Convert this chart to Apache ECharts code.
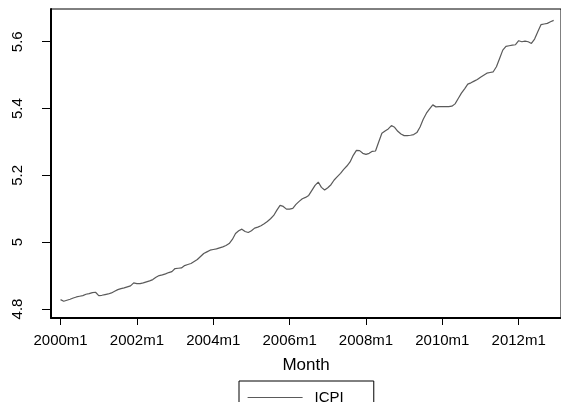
<!DOCTYPE html>
<html>
<head>
<meta charset="utf-8">
<script src="https://cdn.jsdelivr.net/npm/echarts@6/dist/echarts.min.js"></script>
<style>
  html, body { margin: 0; padding: 0; background: #fff; }
  #chart { width: 561px; height: 402px; }
</style>
</head>
<body>
<div id="chart"></div>
<script>
// ICPI, monthly 2000m1 .. 2012m12
const icpi = [
  4.828, 4.823, 4.826, 4.829, 4.833, 4.836, 4.838, 4.840, 4.844, 4.846, 4.849, 4.850,
  4.840, 4.841, 4.843, 4.845, 4.848, 4.853, 4.858, 4.861, 4.863, 4.866, 4.869, 4.878,
  4.876, 4.876, 4.878, 4.881, 4.884, 4.888, 4.895, 4.900, 4.902, 4.905, 4.909, 4.912,
  4.921, 4.922, 4.923, 4.930, 4.933, 4.936, 4.942, 4.948, 4.957, 4.966, 4.971, 4.976,
  4.978, 4.980, 4.983, 4.986, 4.990, 4.996, 5.008, 5.026, 5.034, 5.039, 5.032, 5.029,
  5.034, 5.042, 5.045, 5.049, 5.055, 5.062, 5.070, 5.080, 5.096, 5.110, 5.107, 5.099,
  5.099, 5.101, 5.113, 5.122, 5.130, 5.134, 5.140, 5.155, 5.170, 5.180, 5.164, 5.156,
  5.163, 5.172, 5.186, 5.196, 5.206, 5.218, 5.228, 5.240, 5.260, 5.275, 5.274, 5.266,
  5.263, 5.266, 5.272, 5.273, 5.300, 5.326, 5.333, 5.339, 5.349, 5.344, 5.332, 5.324,
  5.319, 5.319, 5.320, 5.322, 5.328, 5.345, 5.368, 5.386, 5.399, 5.411, 5.405, 5.406,
  5.406, 5.406, 5.406, 5.407, 5.414, 5.430, 5.446, 5.459, 5.473, 5.477, 5.482, 5.487,
  5.494, 5.500, 5.506, 5.508, 5.510, 5.525, 5.550, 5.575, 5.586, 5.588, 5.590, 5.591,
  5.603, 5.600, 5.602, 5.600, 5.595, 5.608, 5.630, 5.651, 5.653, 5.655, 5.660, 5.664
]
const startYear = 2000
const xTicks = [0, 24, 48, 72, 96, 120, 144]          // months since 2000m1
const xTickLabels = ['2000m1', '2002m1', '2004m1', '2006m1', '2008m1', '2010m1', '2012m1']
const yTicks = [4.8, 5, 5.2, 5.4, 5.6]
const yTickLabels = ['4.8', '5', '5.2', '5.4', '5.6']

// month labels like 2000m1 for each point
const months = icpi.map((v, i) => (startYear + Math.floor(i / 12)) + 'm' + (i % 12 + 1))

const chart = echarts.init(document.getElementById('chart'))
const font = 'Liberation Sans, Arial, Helvetica, sans-serif'

chart.setOption({
  animation: false,
  textStyle: { fontFamily: font },
  grid: {
    left: 51, right: 0, top: 9, bottom: 84,
    show: true, borderColor: '#000', borderWidth: 1
  },
  legend: {
    data: ['ICPI'],
    left: 239, top: 381,
    orient: 'horizontal',
    borderColor: '#000', borderWidth: 1, borderRadius: 0,
    padding: [9, 30, 10, 8],
    itemWidth: 55, itemHeight: 14,
    itemStyle: { opacity: 0 },
    lineStyle: { color: '#5a5a5a', width: 1.2 },
    textStyle: { fontFamily: font, fontSize: 15, color: '#000', padding: [0, 0, 0, 7] }
  },
  xAxis: {
    type: 'value',
    min: -3, max: 157.3,
    name: 'Month',
    nameLocation: 'middle',
    nameGap: 39,
    nameTextStyle: { fontFamily: font, fontSize: 17, color: '#000' },
    splitLine: { show: false },
    axisLine: { show: true, onZero: false, lineStyle: { color: '#000', width: 2 } },
    axisTick: { show: true, length: 7, customValues: xTicks, lineStyle: { color: '#000', width: 1 } },
    axisLabel: {
      customValues: xTicks,
      margin: 15,
      fontSize: 15, color: '#000', fontFamily: font,
      formatter: v => xTickLabels[xTicks.indexOf(Math.round(v))] || ''
    }
  },
  yAxis: {
    type: 'value',
    min: 4.773, max: 5.698,
    splitLine: { show: false },
    axisLine: { show: true, onZero: false, lineStyle: { color: '#000', width: 2 } },
    axisTick: { show: true, length: 9, customValues: yTicks, lineStyle: { color: '#000', width: 1 } },
    axisLabel: {
      customValues: yTicks,
      rotate: 90,
      margin: 26,
      fontSize: 15, color: '#000', fontFamily: font,
      formatter: v => yTickLabels[yTicks.findIndex(t => Math.abs(t - v) < 1e-6)] || ''
    }
  },
  tooltip: {
    trigger: 'axis',
    formatter: p => months[p[0].dataIndex] + ': ' + p[0].value[1]
  },
  series: [{
    name: 'ICPI',
    type: 'line',
    symbol: 'none',
    data: icpi.map((v, i) => [i, v]),
    lineStyle: { color: '#5a5a5a', width: 1.2 },
    itemStyle: { color: '#5a5a5a' }
  }]
})
</script>
</body>
</html>
